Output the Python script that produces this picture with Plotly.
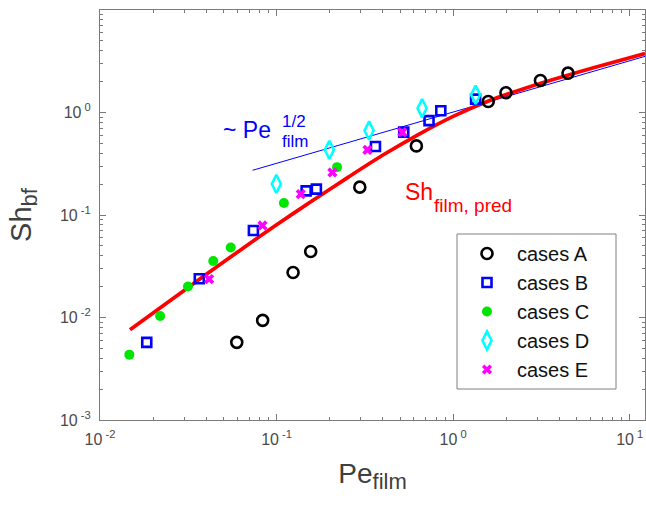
import numpy as np
import plotly.graph_objects as go

# ---------------- data ----------------
pe_A = [0.0595, 0.0834, 0.124, 0.156, 0.296, 0.619, 1.58, 1.99, 3.12, 4.47]
sh_A = [0.00572, 0.00937, 0.0275, 0.0441, 0.187, 0.472, 1.28, 1.56, 2.05, 2.42]

pe_B = [0.0184, 0.0365, 0.0739, 0.147, 0.168, 0.363, 0.525, 0.730, 0.851, 1.34]
sh_B = [0.00572, 0.0239, 0.0706, 0.172, 0.179, 0.466, 0.643, 0.834, 1.04, 1.35]

pe_C = [0.01466, 0.0219, 0.0315, 0.0438, 0.0550, 0.110, 0.220]
sh_C = [0.00434, 0.01035, 0.0201, 0.0356, 0.0482, 0.131, 0.293]

pe_D = [0.0997, 0.199, 0.334, 0.667, 1.34]
sh_D = [0.201, 0.432, 0.667, 1.10, 1.49]

pe_E = [0.0415, 0.0832, 0.137, 0.207, 0.327, 0.515]
sh_E = [0.0237, 0.0791, 0.160, 0.260, 0.432, 0.643]

pe_pred = [0.01479, 0.02512, 0.03981, 0.0631, 0.1, 0.1585, 0.2512, 0.3981, 0.631, 1.0, 1.585, 2.512, 3.981, 6.31, 12.2]
sh_pred = [0.0076, 0.01474, 0.02621, 0.04618, 0.08025, 0.1369, 0.2304, 0.3824, 0.6061, 0.9173, 1.296, 1.708, 2.180, 2.745, 3.767]

pe_half = [0.0731, 12.2]
sh_half = [0.273, 3.53]

x_ticks = [0.01, 0.1, 1, 10]
x_ticktext = ["10<sup> -2</sup>", "10<sup> -1</sup>", "10<sup> 0</sup>", "10<sup> 1</sup>"]
y_ticks = [0.001, 0.01, 0.1, 1, 10]
y_ticktext = ["10<sup> -3</sup>", "10<sup> -2</sup>", "10<sup> -1</sup>", "10<sup> 0</sup>", "10<sup> 1</sup>"]

legend_names = ["cases A", "cases B", "cases C", "cases D", "cases E"]

# minor tick positions (2..9 within each decade)
x_minor = [m * 10.0 ** e for e in range(-2, 2) for m in range(2, 10)]
y_minor = [m * 10.0 ** e for e in range(-3, 1) for m in range(2, 10)]

FONT = "Arial, Liberation Sans, Helvetica, sans-serif"
AX = "#7a7a7a"
TXT = "#4a4a4a"

fig = go.Figure()

fig.add_trace(go.Scatter(x=pe_half, y=sh_half, mode="lines",
                         line=dict(color="#0000ff", width=1), showlegend=False, hoverinfo="skip"))
fig.add_trace(go.Scatter(x=pe_pred, y=sh_pred, mode="lines",
                         line=dict(color="#ff0000", width=3.7, shape="spline", smoothing=0.8),
                         showlegend=False, hoverinfo="skip"))

fig.add_trace(go.Scatter(x=pe_A, y=sh_A, mode="markers", name=legend_names[0],
                         marker=dict(symbol="circle-open", size=11, color="#000000",
                                     line=dict(width=2.6, color="#000000"))))
fig.add_trace(go.Scatter(x=pe_B, y=sh_B, mode="markers", name=legend_names[1],
                         marker=dict(symbol="square-open", size=9, color="#0000ff",
                                     line=dict(width=2.6, color="#0000ff"))))
fig.add_trace(go.Scatter(x=pe_C, y=sh_C, mode="markers", name=legend_names[2],
                         marker=dict(symbol="circle", size=10, color="#00e600",
                                     line=dict(width=0))))
fig.add_trace(go.Scatter(x=pe_D, y=sh_D, mode="markers", name=legend_names[3],
                         marker=dict(symbol="diamond-tall-open", size=13, color="#00ffff",
                                     line=dict(width=2.6, color="#00ffff"))))
fig.add_trace(go.Scatter(x=pe_E, y=sh_E, mode="markers", name=legend_names[4],
                         marker=dict(symbol="x", size=9, color="#ff00ff",
                                     line=dict(width=0))))

axis_common = dict(
    type="log", showgrid=False, zeroline=False,
    showline=True, linecolor=AX, linewidth=1, mirror="ticks",
    ticks="inside", ticklen=6, tickcolor=AX, tickwidth=1,
    tickmode="array",
    tickfont=dict(family=FONT, size=16, color=TXT),
)

fig.update_xaxes(
    **axis_common, range=[-2, np.log10(12.2)],
    tickvals=x_ticks, ticktext=x_ticktext, ticklabelstandoff=5,
    minor=dict(tickmode="array", tickvals=x_minor, ticks="inside", ticklen=3, tickcolor=AX),
    title=dict(text='Pe<sub><span style="font-size:22px">film</span></sub>',
               font=dict(family=FONT, size=28, color="#404040"), standoff=16),
)
fig.update_yaxes(
    **axis_common, range=[-3, 1],
    tickvals=y_ticks, ticktext=y_ticktext, ticklabelstandoff=5,
    minor=dict(tickmode="array", tickvals=y_minor, ticks="inside", ticklen=3, tickcolor=AX),
    title=dict(text='Sh<sub><span style="font-size:22px">bf</span></sub>',
               font=dict(family=FONT, size=29, color="#404040"), standoff=19),
)

L, R, T, B = 100, 1, 10, 86
W, H = 646, 506
pw, ph = W - L - R, H - T - B

def px(xp):
    return (xp - L) / pw

def py(yp):
    return (H - B - yp) / ph

annots = [
    dict(text="~ Pe", x=px(222), y=py(130), xanchor="left", yanchor="middle",
         font=dict(family=FONT, size=23, color="#0000ff")),
    dict(text="1/2", x=px(281), y=py(121), xanchor="left", yanchor="middle",
         font=dict(family=FONT, size=17, color="#0000ff")),
    dict(text="film", x=px(281), y=py(142), xanchor="left", yanchor="middle",
         font=dict(family=FONT, size=17, color="#0000ff")),
    dict(text="Sh", x=px(404), y=py(192), xanchor="left", yanchor="middle",
         font=dict(family=FONT, size=23, color="#ff0000")),
    dict(text="film, pred", x=px(433), y=py(205), xanchor="left", yanchor="middle",
         font=dict(family=FONT, size=19, color="#ff0000")),
]
for a in annots:
    a.update(xref="paper", yref="paper", showarrow=False, borderpad=0)

# legend frame
shapes = [dict(type="rect", xref="paper", yref="paper",
               x0=px(457), x1=px(616), y0=py(389), y1=py(234),
               line=dict(color="#808080", width=1), fillcolor="white", layer="above")]

fig.update_layout(
    width=W, height=H,
    margin=dict(l=L, r=R, t=T, b=B, pad=0),
    paper_bgcolor="white", plot_bgcolor="white",
    annotations=annots,
    shapes=shapes,
    legend=dict(
        x=px(457), y=py(234), xanchor="left", yanchor="top",
        bgcolor="rgba(0,0,0,0)", borderwidth=0,
        font=dict(family=FONT, size=20, color="#111111"),
        itemwidth=50,
    ),
    showlegend=True,
)

fig.write_html("out.html")
